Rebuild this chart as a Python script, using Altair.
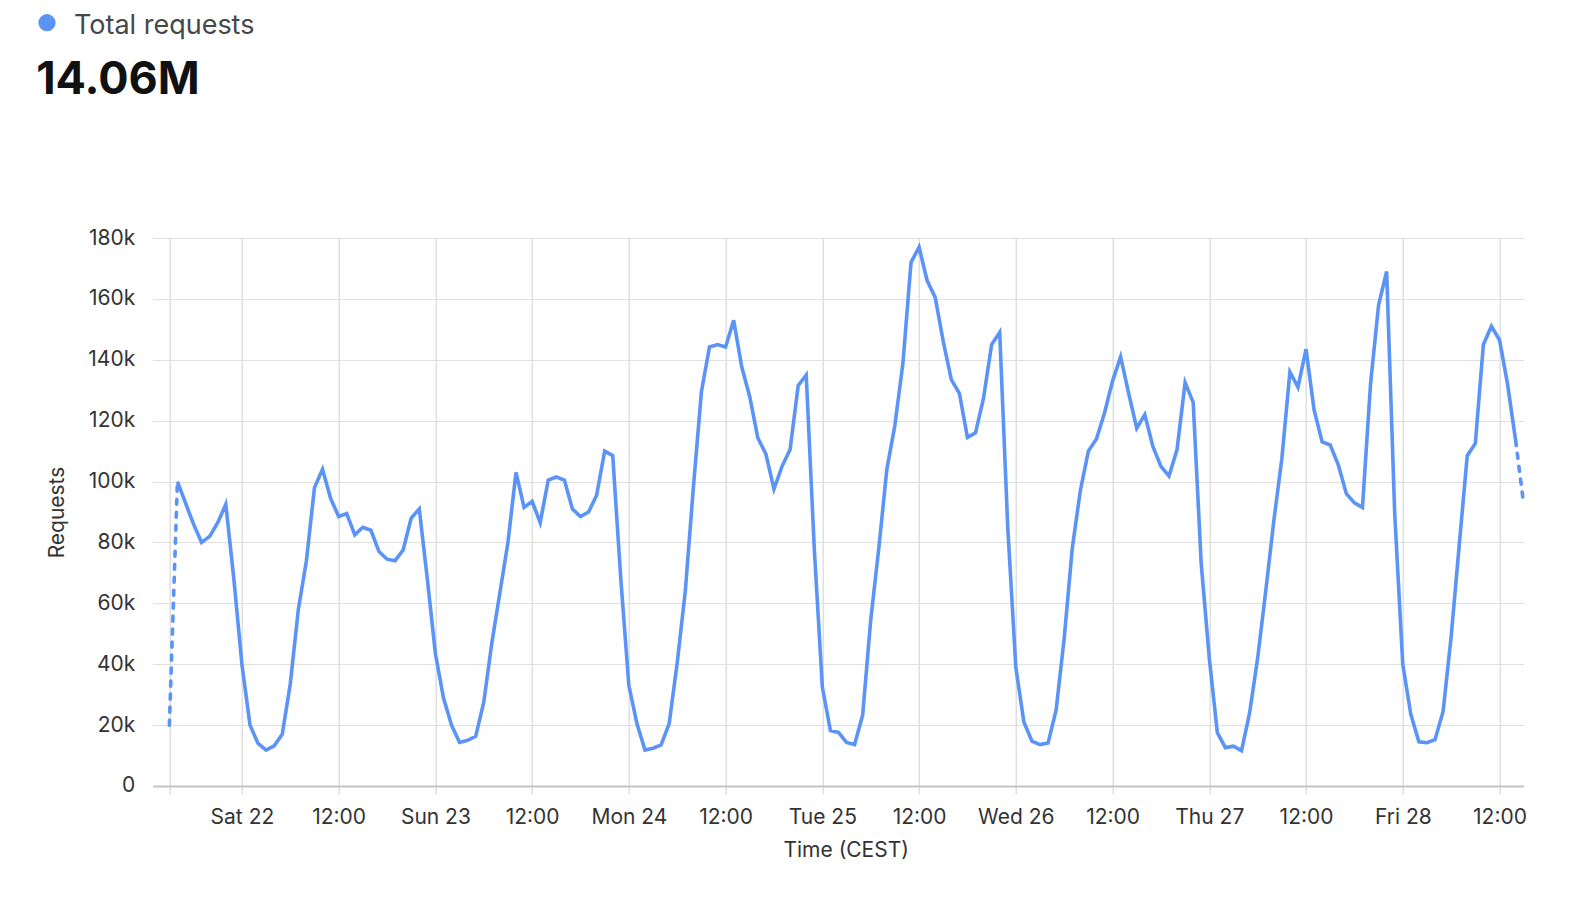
import altair as alt
import pandas as pd

TITLE = "Total requests"
TOTAL = "14.06M"
Y_TITLE = "Requests"
X_TITLE = "Time (CEST)"
LINE_COLOR = "#5b94f6"

# hourly samples starting Fri 21 15:00
START = "2024-06-21T15:00:00Z"
REQUESTS_K = [
    20, 100, 93, 86, 80, 82, 86.5, 92.5, 68, 40,
    20, 14, 11.8, 13.2, 17, 33.5, 58, 74, 98, 104,
    94.5, 88.5, 89.5, 82.5, 85, 84, 77, 74.5, 74, 77.5,
    88, 91, 68, 43.5, 29, 20, 14.3, 15, 16.3, 27.5,
    47, 63.5, 80, 103, 91.5, 93.5, 86.5, 100.5, 101.5, 100.5,
    91, 88.5, 90, 95.5, 110, 108.5, 68, 33, 20.5, 11.8,
    12.4, 13.5, 20.5, 40.5, 64, 98, 129.5, 144.2, 145, 144.2,
    153, 137.7, 127.8, 114.3, 109, 97.5, 105, 110.5, 131.5, 135,
    78, 32.5, 18.2, 17.6, 14.3, 13.6, 23.3, 54.5, 78, 104,
    118.5, 139, 172, 177, 166, 160.5, 146, 133.5, 129, 114.5,
    116, 127.5, 145, 149, 85, 39, 21, 14.7, 13.6, 14.1,
    25, 48.5, 78, 97, 110, 114, 122.5, 133, 141, 129,
    117.5, 122, 111.5, 105, 101.8, 110.5, 132.5, 126, 73, 42,
    17.5, 12.6, 13.1, 11.6, 24, 42, 64, 87, 107.5, 136,
    131, 143.5, 123.5, 113, 112, 105.5, 96, 93, 91.5, 132,
    158, 169, 89.5, 40, 23.5, 14.5, 14.2, 15.2, 24.5, 49,
    79, 108.5, 112.5, 145, 151, 146.5, 132, 113.5, 92.5,
]

DOMAIN_START = "2024-06-21T12:56:00Z"
DOMAIN_END = "2024-06-28T15:00:00Z"
TICK_TIMES = [
    "2024-06-21T15:00:00Z",
    "2024-06-22T00:00:00Z", "2024-06-22T12:00:00Z",
    "2024-06-23T00:00:00Z", "2024-06-23T12:00:00Z",
    "2024-06-24T00:00:00Z", "2024-06-24T12:00:00Z",
    "2024-06-25T00:00:00Z", "2024-06-25T12:00:00Z",
    "2024-06-26T00:00:00Z", "2024-06-26T12:00:00Z",
    "2024-06-27T00:00:00Z", "2024-06-27T12:00:00Z",
    "2024-06-28T00:00:00Z", "2024-06-28T12:00:00Z",
]
Y_TICKS = [0, 20000, 40000, 60000, 80000, 100000, 120000, 140000, 160000, 180000]


def ms(s):
    return int(pd.Timestamp(s).value // 10**6)


times = pd.date_range(START, periods=len(REQUESTS_K), freq="h")
df = pd.DataFrame({
    "time": times.strftime("%Y-%m-%dT%H:%M:%SZ"),
    "requests": [v * 1000 for v in REQUESTS_K],
})
n = len(df)
solid = df.iloc[1:n - 1]
dash_a = df.iloc[0:2].assign(seg="a")
dash_b = df.iloc[n - 2:n].assign(seg="b")
dashed = pd.concat([dash_a, dash_b])

tick_ms = [ms(t) for t in TICK_TIMES]
label_expr = (
    f"datum.value < {tick_ms[1]} ? '' : "
    "(utcFormat(datum.value, '%H') == '00' ? utcFormat(datum.value, '%a %d') "
    ": utcFormat(datum.value, '%H:%M'))"
)

x_enc = alt.X(
    "time:T",
    scale=alt.Scale(type="utc", domain=[ms(DOMAIN_START), ms(DOMAIN_END)]),
    axis=alt.Axis(
        values=tick_ms,
        labelExpr=label_expr,
        title=X_TITLE,
        grid=True,
        gridColor="#d8d8d8",
        gridWidth=1.2,
        tickColor="#d8d8d8",
        tickWidth=1.2,
        tickSize=8,
        domainColor="#c4c4c4",
        domainWidth=2,
        labelBaseline="alphabetic",
        labelPadding=30,
        labelOverlap=False,
        labelFlush=False,
        labelBound=False,
        titleX=693,
        titleY=71,
        titleAlign="center",
        titleBaseline="alphabetic",
    ),
)
y_enc = alt.Y(
    "requests:Q",
    scale=alt.Scale(domain=[0, 180000], nice=False),
    axis=alt.Axis(
        values=Y_TICKS,
        labelExpr="datum.value == 0 ? '0' : format(datum.value / 1000, 'd') + 'k'",
        title=Y_TITLE,
        domain=False,
        ticks=False,
        labelPadding=18,
        grid=True,
        gridColor="#e0e0e0",
        gridWidth=1.2,
        titleX=-95,
        titleY=274,
        titleAngle=270,
        titleAlign="center",
        titleBaseline="middle",
    ),
)

line = alt.Chart(solid).mark_line(
    color=LINE_COLOR, strokeWidth=3.6, strokeJoin="miter"
).encode(x=x_enc, y=y_enc)

dash = alt.Chart(dashed).mark_line(
    color=LINE_COLOR, strokeWidth=3.6, strokeDash=[5, 8], strokeCap="round"
).encode(x="time:T", y="requests:Q", detail="seg:N")

dot = alt.Chart(pd.DataFrame({"label": [TITLE]})).mark_circle(
    color=LINE_COLOR, opacity=1, size=295
).encode(x=alt.value(-105.7), y=alt.value(-215.3))

title_txt = alt.Chart(pd.DataFrame({"label": [TITLE]})).mark_text(
    align="left", baseline="alphabetic", font="Inter", fontSize=27,
    color="#474747"
).encode(x=alt.value(-78.7), y=alt.value(-203.6), text="label:N")

total_txt = alt.Chart(pd.DataFrame({"label": [TOTAL]})).mark_text(
    align="left", baseline="alphabetic", font="Inter", fontSize=45,
    fontWeight=700, color="#111111"
).encode(x=alt.value(-116.5), y=alt.value(-143.7), text="label:N")

chart = alt.layer(line, dash, dot, title_txt, total_txt).properties(
    width=1371,
    height=548,
    autosize=alt.AutoSizeParams(type="none"),
    padding={"left": 144.7, "top": 230, "right": 30, "bottom": 80},
).configure_view(stroke=None).configure_axis(
    labelFont="Inter", labelFontSize=21, labelColor="#333333",
    titleFont="Inter", titleFontSize=21, titleFontWeight="normal",
    titleColor="#333333",
)

chart.save("out.html", embed_options={"renderer": "svg", "actions": False})
